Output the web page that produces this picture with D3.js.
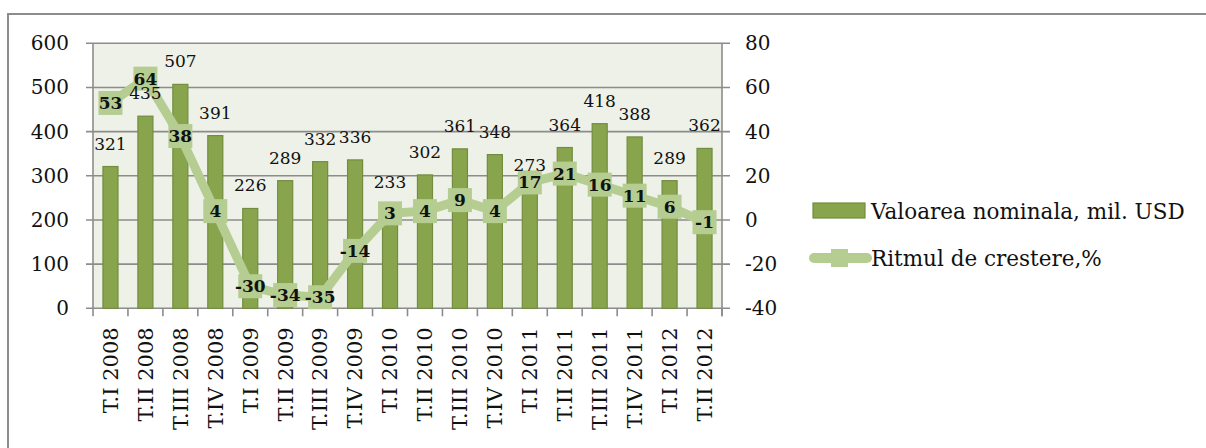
<!DOCTYPE html>
<html>
<head>
<meta charset="utf-8">
<script src="https://cdn.jsdelivr.net/npm/d3@7"></script>
<style>
  body { margin: 0; background: #fff; }
  svg text { font-family: "DejaVu Serif", serif; fill: #111; }
</style>
</head>
<body>
<div id="chart"></div>
<script>
var width = 1206;
var height = 448;

// data
var quarters = ["T.I 2008", "T.II 2008", "T.III 2008", "T.IV 2008",
                "T.I 2009", "T.II 2009", "T.III 2009", "T.IV 2009",
                "T.I 2010", "T.II 2010", "T.III 2010", "T.IV 2010",
                "T.I 2011", "T.II 2011", "T.III 2011", "T.IV 2011",
                "T.I 2012", "T.II 2012"];
var nominal = [321, 435, 507, 391, 226, 289, 332, 336, 233, 302, 361, 348, 273, 364, 418, 388, 289, 362];
var growth = [53, 64, 38, 4, -30, -34, -35, -14, 3, 4, 9, 4, 17, 21, 16, 11, 6, -1];
var leftTicks = [0, 100, 200, 300, 400, 500, 600];
var rightTicks = [-40, -20, 0, 20, 40, 60, 80];
var legendNames = ["Valoarea nominala, mil. USD", "Ritmul de crestere,%"];

var plot = {left: 93, right: 722, top: 43.3, bottom: 308.3};

var svg = d3.select("#chart")
            .append("svg")
            .attr("width", width)
            .attr("height", height);

// outer chart frame (only top / left edges are inside the picture)
svg.append("rect")
    .attr("x", 8).attr("y", 14)
    .attr("width", 1300).attr("height", 500)
    .attr("fill", "none")
    .attr("stroke", "#8c8c8c")
    .attr("stroke-width", 2);

var x = d3.scaleBand()
            .domain(quarters)
            .range([plot.left, plot.right]);

var yLeft = d3.scaleLinear().domain([0, 600]).range([plot.bottom, plot.top]);
var yRight = d3.scaleLinear().domain([-40, 80]).range([plot.bottom, plot.top]);

// plot background
svg.append("rect")
    .attr("x", plot.left).attr("y", plot.top)
    .attr("width", plot.right - plot.left)
    .attr("height", plot.bottom - plot.top)
    .attr("fill", "#eef1e8");

// gridlines + left ticks
svg.append("g")
    .selectAll("line")
    .data(leftTicks)
    .enter()
    .append("line")
    .attr("x1", plot.left - 7)
    .attr("x2", plot.right + 8)
    .attr("y1", function(d) { return yLeft(d); })
    .attr("y2", function(d) { return yLeft(d); })
    .attr("stroke", "#8c8c8c")
    .attr("stroke-width", 1.6);

// vertical axis lines
[plot.left, plot.right].forEach(function(px) {
    svg.append("line")
        .attr("x1", px).attr("x2", px)
        .attr("y1", plot.top).attr("y2", plot.bottom + 8)
        .attr("stroke", "#8c8c8c")
        .attr("stroke-width", 1.6);
});

// category ticks on x axis
svg.append("g")
    .selectAll("line")
    .data(quarters)
    .enter()
    .append("line")
    .attr("x1", function(d) { return x(d) + x.bandwidth(); })
    .attr("x2", function(d) { return x(d) + x.bandwidth(); })
    .attr("y1", plot.bottom)
    .attr("y2", plot.bottom + 8)
    .attr("stroke", "#8c8c8c")
    .attr("stroke-width", 1.6);

// axis labels
svg.append("g")
    .selectAll("text")
    .data(leftTicks)
    .enter()
    .append("text")
    .attr("x", 69)
    .attr("y", function(d) { return yLeft(d); })
    .attr("dy", "0.35em")
    .attr("text-anchor", "end")
    .style("font-size", "20px")
    .text(function(d) { return d; });

svg.append("g")
    .selectAll("text")
    .data(rightTicks)
    .enter()
    .append("text")
    .attr("x", 745)
    .attr("y", function(d) { return yRight(d); })
    .attr("dy", "0.35em")
    .style("font-size", "20px")
    .text(function(d) { return d; });

svg.append("g")
    .selectAll("text")
    .data(quarters)
    .enter()
    .append("text")
    .attr("transform", function(d) {
        return "translate(" + (x(d) + x.bandwidth() / 2) + "," + (plot.bottom + 19) + ") rotate(-90)";
    })
    .attr("dy", "0.35em")
    .attr("text-anchor", "end")
    .style("font-size", "21px")
    .text(function(d) { return d; });

// bars
var barW = x.bandwidth() * 0.43;
svg.append("g")
    .selectAll("rect")
    .data(nominal)
    .enter()
    .append("rect")
    .attr("x", function(d, i) { return x(quarters[i]) + (x.bandwidth() - barW) / 2; })
    .attr("y", function(d) { return yLeft(d); })
    .attr("width", barW)
    .attr("height", function(d) { return plot.bottom - yLeft(d); })
    .attr("fill", "#88a54d")
    .attr("stroke", "#728d3f")
    .attr("stroke-width", 1.2);

// growth line
var line = d3.line()
    .x(function(d, i) { return x(quarters[i]) + x.bandwidth() / 2; })
    .y(function(d) { return yRight(d); });

svg.append("path")
    .datum(growth)
    .attr("d", line)
    .attr("fill", "none")
    .attr("stroke", "#b5cd91")
    .attr("stroke-width", 9)
    .attr("stroke-linejoin", "round");

var mk = 24;
svg.append("g")
    .selectAll("rect")
    .data(growth)
    .enter()
    .append("rect")
    .attr("x", function(d, i) { return x(quarters[i]) + x.bandwidth() / 2 - mk / 2; })
    .attr("y", function(d) { return yRight(d) - mk / 2; })
    .attr("width", mk)
    .attr("height", mk)
    .attr("fill", "#b5cd91");

// bar value labels
svg.append("g")
    .selectAll("text")
    .data(nominal)
    .enter()
    .append("text")
    .attr("x", function(d, i) { return x(quarters[i]) + x.bandwidth() / 2; })
    .attr("y", function(d) { return yLeft(d) - 17; })
    .attr("text-anchor", "middle")
    .style("font-size", "17px")
    .text(function(d) { return d; });

// growth labels
svg.append("g")
    .selectAll("text")
    .data(growth)
    .enter()
    .append("text")
    .attr("x", function(d, i) { return x(quarters[i]) + x.bandwidth() / 2; })
    .attr("y", function(d) { return yRight(d); })
    .attr("dy", "0.35em")
    .attr("text-anchor", "middle")
    .style("font-size", "17px")
    .style("font-weight", "bold")
    .text(function(d) { return d; });

// legend
var legend = svg.append("g");
legend.append("rect")
    .attr("x", 813).attr("y", 203)
    .attr("width", 52).attr("height", 15)
    .attr("fill", "#88a54d")
    .attr("stroke", "#728d3f")
    .attr("stroke-width", 1.2);
legend.append("line")
    .attr("x1", 814).attr("x2", 867)
    .attr("y1", 258).attr("y2", 258)
    .attr("stroke", "#b5cd91")
    .attr("stroke-width", 10)
    .attr("stroke-linecap", "round");
legend.append("rect")
    .attr("x", 831).attr("y", 249)
    .attr("width", 17).attr("height", 18)
    .attr("fill", "#b5cd91");
legend.selectAll("text.lg")
    .data(legendNames)
    .enter()
    .append("text")
    .attr("class", "lg")
    .attr("x", 871)
    .attr("y", function(d, i) { return i === 0 ? 211 : 258; })
    .attr("dy", "0.35em")
    .style("font-size", "21.5px")
    .text(function(d) { return d; });
</script>
</body>
</html>
